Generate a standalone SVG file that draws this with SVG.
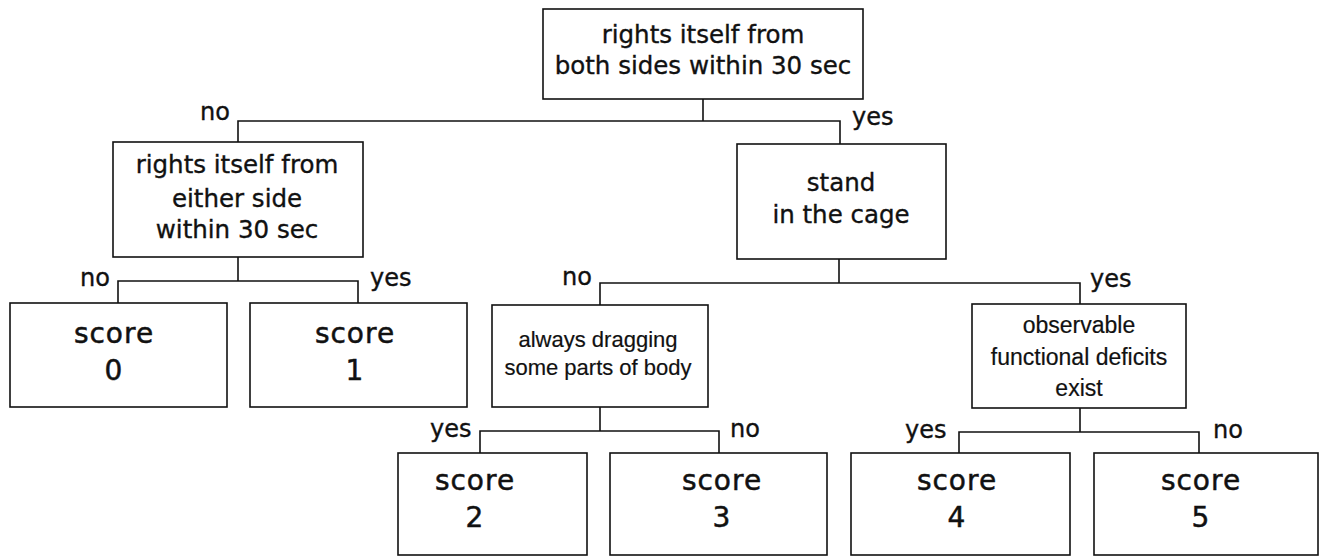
<svg xmlns="http://www.w3.org/2000/svg" width="1326" height="556" viewBox="0 0 1326 556">
<style>
.b{fill:#fff;stroke:#111;stroke-width:1.6}
.c{fill:none;stroke:#111;stroke-width:1.6}
text{fill:#111;text-anchor:middle;stroke:#111;stroke-width:0.35}
.q{font-family:"DejaVu Sans",sans-serif;font-size:24.5px}
.s{font-family:"Liberation Sans",Arial,sans-serif;font-size:22px;stroke-width:0.2}
.o{font-family:"Liberation Sans",Arial,sans-serif;font-size:23px;stroke-width:0.2}
.sc{font-family:"DejaVu Sans",sans-serif;font-size:28px;letter-spacing:1px;stroke-width:0.5}
.l{font-family:"DejaVu Sans",sans-serif;font-size:24px;text-anchor:start}
</style>
<rect width="1326" height="556" fill="#fff"/>
<g id="connectors">
<path class="c" d="M703 99V121M238 142V121H840V144"/>
<path class="c" d="M238 257V281M118 303V281H358V303"/>
<path class="c" d="M839 259V283M600 305V283H1080V304"/>
<path class="c" d="M600 407V431M480 453V431H719V453"/>
<path class="c" d="M1080 408V432M959 453V432H1199V453"/>
<text class="l" x="200" y="120">no</text>
<text class="l" x="852" y="125">yes</text>
<text class="l" x="80" y="286">no</text>
<text class="l" x="370" y="286">yes</text>
<text class="l" x="562" y="285">no</text>
<text class="l" x="1090" y="287">yes</text>
<text class="l" x="430" y="437">yes</text>
<text class="l" x="730" y="437">no</text>
<text class="l" x="905" y="438">yes</text>
<text class="l" x="1213" y="438">no</text>
</g>
<g id="root">
<rect class="b" x="543" y="9" width="320" height="90"/>
<text class="q" x="703" y="43">rights itself from</text>
<text class="q" x="703" y="74">both sides within 30 sec</text>
</g>
<g id="either">
<rect class="b" x="113" y="142" width="250" height="115"/>
<text class="q" x="237" y="173">rights itself from</text>
<text class="q" x="237" y="207">either side</text>
<text class="q" x="237" y="238">within 30 sec</text>
</g>
<g id="stand">
<rect class="b" x="737" y="144" width="209" height="115"/>
<text class="q" x="841" y="191">stand</text>
<text class="q" x="841" y="223">in the cage</text>
</g>
<g id="score0">
<rect class="b" x="10" y="303" width="217" height="104"/>
<text class="sc" x="114" y="343">score</text>
<text class="sc" x="114" y="380">0</text>
</g>
<g id="score1">
<rect class="b" x="250" y="303" width="217" height="104"/>
<text class="sc" x="355" y="343">score</text>
<text class="sc" x="355" y="380">1</text>
</g>
<g id="dragging">
<rect class="b" x="492" y="305" width="216" height="102"/>
<text class="s" x="598" y="347">always dragging</text>
<text class="s" x="598" y="375">some parts of body</text>
</g>
<g id="deficits">
<rect class="b" x="972" y="304" width="214" height="104"/>
<text class="o" x="1079" y="333">observable</text>
<text class="o" x="1079" y="365">functional deficits</text>
<text class="o" x="1079" y="396">exist</text>
</g>
<g id="score2">
<rect class="b" x="398" y="453" width="189" height="102"/>
<text class="sc" x="475" y="490">score</text>
<text class="sc" x="475" y="527">2</text>
</g>
<g id="score3">
<rect class="b" x="610" y="453" width="217" height="102"/>
<text class="sc" x="722" y="490">score</text>
<text class="sc" x="722" y="527">3</text>
</g>
<g id="score4">
<rect class="b" x="851" y="453" width="219" height="102"/>
<text class="sc" x="957" y="490">score</text>
<text class="sc" x="957" y="527">4</text>
</g>
<g id="score5">
<rect class="b" x="1094" y="453" width="224" height="102"/>
<text class="sc" x="1201" y="490">score</text>
<text class="sc" x="1201" y="527">5</text>
</g>
</svg>
